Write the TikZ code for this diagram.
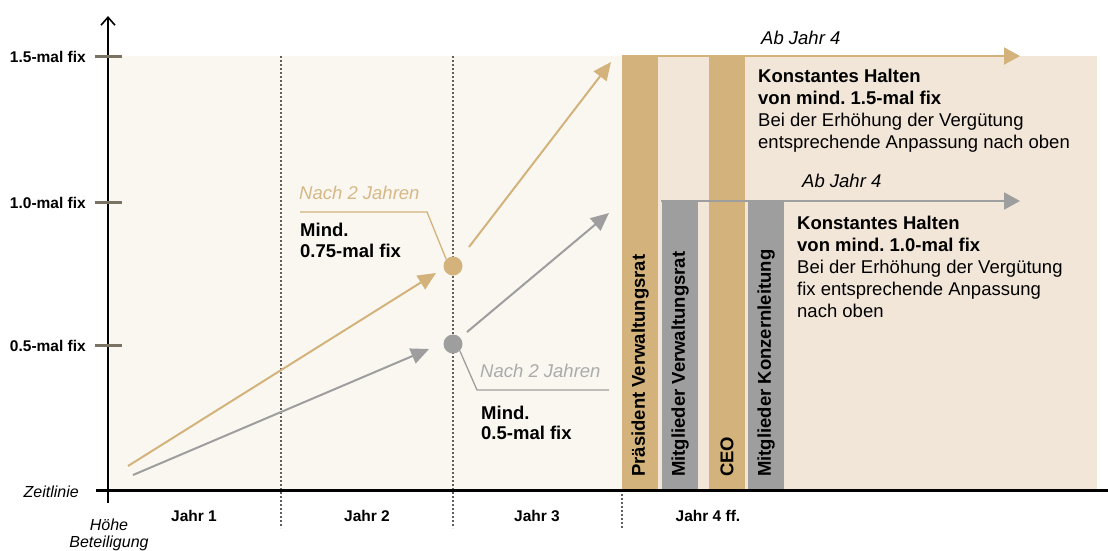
\documentclass[tikz,border=0pt]{standalone}
\usepackage{fontspec}
\setmainfont{Liberation Sans}
\usetikzlibrary{arrows.meta}
\frenchspacing
\definecolor{gold}{HTML}{D3B37B}
\definecolor{goldtxt}{HTML}{D6B886}
\definecolor{grayc}{HTML}{9E9E9E}
\definecolor{graytxt}{HTML}{ABABAB}
\definecolor{lightbg}{HTML}{FAF7F1}
\definecolor{beige}{HTML}{F2E6D8}
\definecolor{tickc}{HTML}{7A7262}
\definecolor{dotc}{HTML}{5E5E5E}
\begin{document}
\begin{tikzpicture}[x=1pt,y=-1pt,
  ylab/.style={anchor=base east,inner sep=0,font=\fontsize{15.5}{18}\selectfont\bfseries},
  axlab/.style={anchor=base,inner sep=0,font=\fontsize{15.5}{18}\selectfont\bfseries},
  itlab/.style={inner sep=0,font=\fontsize{16}{18}\selectfont\itshape},
  body/.style={anchor=base west,inner sep=0,align=left,font=\fontsize{18.5}{22}\selectfont},
  bartxt/.style={anchor=west,rotate=90,inner sep=0,font=\fontsize{18.5}{22}\selectfont\bfseries},
  tickm/.style={draw=tickc,line width=3pt},
  gridl/.style={draw=dotc,line width=1.3pt,dash pattern=on 2pt off 2pt},
  goldarr/.style={draw=gold,line width=2pt,-{Triangle[length=18pt,width=16pt]}},
  grayarr/.style={draw=grayc,line width=2pt,-{Triangle[length=18pt,width=16pt]}},
  dotn/.style={circle,inner sep=0,minimum size=19pt},
]
\useasboundingbox (0,0) rectangle (1108,550);
% backgrounds
\fill[lightbg] (110,56) rectangle (622,490);
\fill[beige] (622,56) rectangle (1097,490);
% grid lines
\coordinate (g1t) at (281,56); \coordinate (g1b) at (281,528);
\coordinate (g2t) at (453,56); \coordinate (g2b) at (453,528);
\coordinate (g3t) at (622,490); \coordinate (g3b) at (622,528);
\draw[gridl] (g1t) -- (g1b);
\draw[gridl] (g2t) -- (g2b);
\draw[gridl] (g3t) -- (g3b);
% bars
\fill[gold] (622,56) rectangle (658,490);
\fill[grayc] (662,201) rectangle (698,490);
\fill[gold] (709,56) rectangle (745,490);
\fill[grayc] (748,201) rectangle (784,490);
\node[bartxt] (b1) at (640,477) {Präsident Verwaltungsrat};
\node[bartxt] (b2) at (680,477) {Mitglieder Verwaltungsrat};
\node[bartxt] (b3) at (727,477) {CEO};
\node[bartxt] (b4) at (766,477) {Mitglieder Konzernleitung};
% axes
\coordinate (ya) at (108,503); \coordinate (yb) at (108,16);
\coordinate (xa) at (96,490); \coordinate (xb) at (1108,490);
\draw[line width=3pt] (xa) -- (xb);
\draw[line width=2.2pt,-{Straight Barb[length=8pt,width=14pt,line width=1.6pt]}] (ya) -- (yb);
% ticks
\coordinate (t1a) at (95,56); \coordinate (t1b) at (122,56);
\coordinate (t2a) at (95,202); \coordinate (t2b) at (122,202);
\coordinate (t3a) at (95,345); \coordinate (t3b) at (122,345);
\draw[tickm] (t1a) -- (t1b);
\draw[tickm] (t2a) -- (t2b);
\draw[tickm] (t3a) -- (t3b);
\node[ylab] (l15) at (86,62) {1.5-mal fix};
\node[ylab] (l10) at (86,208) {1.0-mal fix};
\node[ylab] (l05) at (86,351) {0.5-mal fix};
% axis labels
\node[itlab,anchor=base east] (zl) at (79,497) {Zeitlinie};
\node[itlab,anchor=base] (h1) at (109,530) {Höhe};
\node[itlab,anchor=base] (h2) at (109,547) {Beteiligung};
\node[axlab] (j1) at (194,521) {Jahr 1};
\node[axlab] (j2) at (367,521) {Jahr 2};
\node[axlab] (j3) at (537,521) {Jahr 3};
\node[axlab] (j4) at (708,521) {Jahr 4 ff.};
% dots
\node[dotn,fill=gold] (dg) at (453,266) {};
\node[dotn,fill=grayc] (dy) at (453,344) {};
% growth arrows
\coordinate (ga0) at (128,466); \coordinate (ga1) at (436,273);
\coordinate (ya0) at (133,475); \coordinate (ya1) at (429,349);
\coordinate (gb0) at (469,247); \coordinate (gb1) at (611,62);
\coordinate (yb0) at (467,332); \coordinate (yb1) at (609,213);
\draw[goldarr] (ga0) -- (ga1);
\draw[grayarr] (ya0) -- (ya1);
\draw[goldarr] (gb0) -- (gb1);
\draw[grayarr] (yb0) -- (yb1);
% callouts
\coordinate (cg0) at (300,212); \coordinate (cg1) at (427,212);
\draw[gold,line width=1.3pt] (cg0) -- (cg1) -- (dg.north west);
\coordinate (cy1) at (477,390); \coordinate (cy2) at (609,390);
\draw[grayc,line width=1.3pt] (dy.south east) -- (cy1) -- (cy2);
\node[itlab,anchor=base west,text=goldtxt,font=\fontsize{18.5}{22}\selectfont\itshape] (n1) at (299,199) {Nach 2 Jahren};
\node[body,font=\fontsize{18.5}{21}\selectfont\bfseries] (m1) at (300,257) {Mind.\\0.75-mal fix};
\node[itlab,anchor=base west,text=graytxt,font=\fontsize{18.5}{22}\selectfont\itshape] (n2) at (480,377) {Nach 2 Jahren};
\node[body,font=\fontsize{18.5}{20}\selectfont\bfseries] (m2) at (481,439) {Mind.\\0.5-mal fix};
% horizontal arrows
\coordinate (h15a) at (622,56); \coordinate (h15b) at (1020,56);
\coordinate (h10a) at (661,201); \coordinate (h10b) at (1020,201);
\draw[gold,line width=2pt,-{Triangle[length=16pt,width=17pt]}] (h15a) -- (h15b);
\draw[grayc,line width=2pt,-{Triangle[length=16pt,width=17pt]}] (h10a) -- (h10b);
\node[itlab,anchor=base west,font=\fontsize{18.5}{22}\selectfont\itshape] (a1) at (761,44) {Ab Jahr 4};
\node[itlab,anchor=base west,font=\fontsize{18.5}{22}\selectfont\itshape] (a2) at (802,187) {Ab Jahr 4};
\node[body] (k1) at (758,148) {\textbf{Konstantes Halten}\\\textbf{von mind. 1.5-mal fix}\\Bei der Erhöhung der Vergütung\\entsprechende Anpassung nach oben};
\node[body] (k2) at (797,317) {\textbf{Konstantes Halten}\\\textbf{von mind. 1.0-mal fix}\\Bei der Erhöhung der Vergütung\\fix entsprechende Anpassung\\nach oben};
\end{tikzpicture}
\end{document}
